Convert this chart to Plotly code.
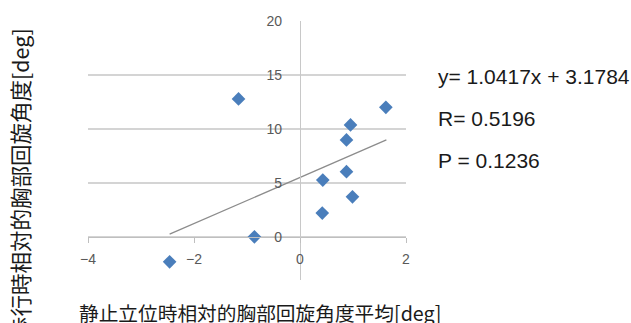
import plotly.graph_objects as go

# Data
x_vals = [-1.16, -0.86, -2.46, 1.62, 0.953, 0.877, 0.877, 0.43, 0.99, 0.42]
y_vals = [12.78, 0.0, -2.32, 12.0, 10.37, 8.98, 6.04, 5.26, 3.71, 2.2]
trend_x = [-2.46, 1.63]
trend_y = [0.25, 8.98]
x_ticks = [-4, -2, 0, 2]
y_ticks = [0, 5, 10, 15, 20]
stats_lines = ["y= 1.0417x + 3.1784", "R= 0.5196", "P = 0.1236"]
x_title = "静止立位時相対的胸部回旋角度平均[deg]"
y_title = "歩行時相対的胸部回旋角度[deg]"

W, H = 631, 323
L, R, T, B = 88, 225, 21, 43
pw, ph = W - L - R, H - T - B

def px_x(p):
    return (p - L) / pw

def px_y(p):
    return (H - B - p) / ph

fig = go.Figure()
fig.add_trace(go.Scatter(x=trend_x, y=trend_y, mode="lines",
                         line=dict(color="#8c8c8c", width=1.3),
                         hoverinfo="skip", showlegend=False))
fig.add_trace(go.Scatter(x=x_vals, y=y_vals, mode="markers",
                         marker=dict(symbol="diamond", size=10.5, color="#4a7ebb"),
                         showlegend=False))

cjk = "Noto Sans CJK JP"
fig.update_layout(
    width=W, height=H,
    margin=dict(l=L, r=R, t=T, b=B),
    paper_bgcolor="white", plot_bgcolor="white",
    xaxis=dict(range=[-4, 2], domain=[0, 1], anchor="free", position=4/24,
               showline=True, linecolor="#bfbfbf", linewidth=1.2,
               ticks="outside", ticklen=5, tickcolor="#bfbfbf",
               tickvals=x_ticks, showgrid=False, zeroline=False,
               ticklabelstandoff=4,
               tickfont=dict(family="Liberation Sans", size=14, color="#595959")),
    yaxis=dict(range=[-4, 20], domain=[0, 1], anchor="free", position=4/6,
               showline=True, linecolor="#c8c8c8", linewidth=1.2,
               ticks="", tickvals=y_ticks, showgrid=True,
               gridcolor="#d4d4d4", gridwidth=1.5, zeroline=False,
               ticklabelstandoff=15,
               tickfont=dict(family="Liberation Sans", size=14, color="#595959")),
)

ann = []
for i, t in enumerate(stats_lines):
    ann.append(dict(text=t, xref="paper", yref="paper",
                    x=px_x(436), y=px_y(76 + 42 * i),
                    xanchor="left", yanchor="middle", showarrow=False,
                    font=dict(family="Liberation Sans", size=21, color="#1a1a1a")))
ann.append(dict(text=x_title, xref="paper", yref="paper",
                x=px_x(77), y=px_y(312), xanchor="left", yanchor="middle",
                showarrow=False, font=dict(family=cjk, size=19.7, color="#1a1a1a")))
ann.append(dict(text=y_title, xref="paper", yref="paper", textangle=-90,
                x=px_x(19), y=px_y(183), xanchor="center", yanchor="middle",
                showarrow=False, font=dict(family=cjk, size=21.5, color="#1a1a1a")))
fig.update_layout(annotations=ann)

fig.write_html("out.html", config={"displayModeBar": False},
               post_script="document.body.style.margin='0';document.body.style.overflow='hidden';")
